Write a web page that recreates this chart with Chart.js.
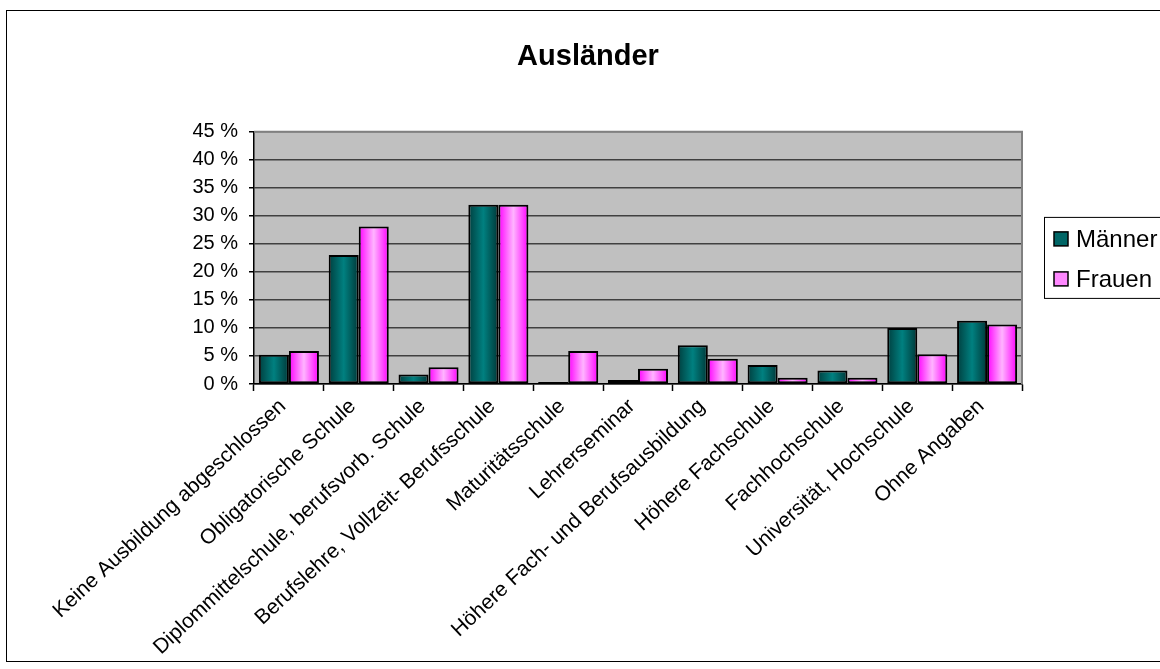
<!DOCTYPE html>
<html>
<head>
<meta charset="utf-8">
<title>Ausländer</title>
<script src="https://cdn.jsdelivr.net/npm/chart.js@4.4.1/dist/chart.umd.min.js"></script>
<style>
    body { margin: 0; background: #fff; }
    #wrap { position: relative; width: 1160px; height: 669px; overflow: hidden; }
    #frame { position: absolute; left: 6px; top: 10px; width: 1170px; height: 650px; border: 1px solid #000; pointer-events: none; }
</style>
</head>
<body>
<div id="wrap">
    <canvas id="chart"></canvas>
    <div id="frame"></div>
</div>
<script>
// Chart data (in %)
const categories = [
    'Keine Ausbildung abgeschlossen',
    'Obligatorische Schule',
    'Diplommittelschule, berufsvorb. Schule',
    'Berufslehre, Vollzeit- Berufsschule',
    'Maturitätsschule',
    'Lehrerseminar',
    'Höhere Fach- und Berufsausbildung',
    'Höhere Fachschule',
    'Fachhochschule',
    'Universität, Hochschule',
    'Ohne Angaben'
];
const maenner = [5.2, 23.0, 1.7, 32.0, 0.35, 0.7, 6.9, 3.4, 2.4, 10.0, 11.3];
const frauen = [5.9, 28.1, 3.0, 32.0, 5.9, 2.7, 4.5, 1.1, 1.1, 5.3, 10.6];
const seriesNames = ['Männer', 'Frauen'];
const yTicks = [0, 5, 10, 15, 20, 25, 30, 35, 40, 45];

const FONT = "'Liberation Sans', Arial, sans-serif";
const CAT_PCT = 0.86;

// gradient stops per series (dark edges, light centre like the old office charts)
const gradients = [
    [[0, '#003f3f'], [0.5, '#008080'], [1, '#003838']],
    [[0, '#ff00ff'], [0.5, '#ffb4ff'], [1, '#ff00ff']]
];
const legendColors = ['#006666', '#ff88ff'];

function barFill(context) {
    const stops = gradients[context.datasetIndex];
    const xs = context.chart.scales.x;
    if (!xs || context.dataIndex === undefined || !xs.width) return stops[1][1];
    const step = xs.width / categories.length;
    const barW = step * CAT_PCT / 2;
    const center = xs.getPixelForValue(context.dataIndex) + (context.datasetIndex === 0 ? -barW / 2 : barW / 2);
    const g = context.chart.ctx.createLinearGradient(center - barW / 2, 0, center + barW / 2, 0);
    stops.forEach(s => g.addColorStop(s[0], s[1]));
    return g;
}

// grey plot background + grey top/right edge
const plotArea = {
    id: 'plotArea',
    beforeDraw(chart) {
        const {ctx, chartArea: a} = chart;
        ctx.save();
        ctx.fillStyle = '#c0c0c0';
        ctx.fillRect(a.left, a.top, a.right - a.left, a.bottom - a.top);
        ctx.restore();
    },
    beforeDatasetsDraw(chart) {
        const {ctx, chartArea: a} = chart;
        ctx.save();
        ctx.strokeStyle = '#808080';
        ctx.lineWidth = 2;
        ctx.beginPath();
        ctx.moveTo(a.left, a.top);
        ctx.lineTo(a.right, a.top);
        ctx.lineTo(a.right, a.bottom);
        ctx.stroke();
        ctx.restore();
    }
};

// legend box on the right, next to the plot
const boxLegend = {
    id: 'boxLegend',
    afterDraw(chart) {
        const {ctx, chartArea: a} = chart;
        const left = a.right + 22;
        const mid = (a.top + a.bottom) / 2;
        const rowH = 40;
        const top = mid - 41;
        ctx.save();
        ctx.fillStyle = '#fff';
        ctx.fillRect(left, top, 200, 81);
        ctx.strokeStyle = '#000';
        ctx.lineWidth = 1;
        ctx.strokeRect(left + 0.5, top + 0.5, 200, 81);
        ctx.font = '24px ' + FONT;
        ctx.textBaseline = 'middle';
        chart.data.datasets.forEach((ds, i) => {
            const cy = top + 22 + i * rowH;
            ctx.fillStyle = legendColors[i];
            ctx.fillRect(left + 10, cy - 7, 14, 14);
            ctx.strokeStyle = '#000';
            ctx.lineWidth = 1.5;
            ctx.strokeRect(left + 10, cy - 7, 14, 14);
            ctx.fillStyle = '#000';
            ctx.fillText(ds.label, left + 32, cy + 1);
        });
        ctx.restore();
    }
};

const chart = new Chart(document.getElementById('chart'), {
    type: 'bar',
    data: {
        labels: categories,
        datasets: [{
            label: seriesNames[0],
            data: maenner,
            backgroundColor: barFill,
            borderColor: '#000',
            borderWidth: 2,
            borderSkipped: false,
            categoryPercentage: CAT_PCT,
            barPercentage: 1.0
        }, {
            label: seriesNames[1],
            data: frauen,
            backgroundColor: barFill,
            borderColor: '#000',
            borderWidth: 2,
            borderSkipped: false,
            categoryPercentage: CAT_PCT,
            barPercentage: 1.0
        }]
    },
    options: {
        responsive: true,
        maintainAspectRatio: false,
        animation: false,
        layout: {
            padding: { left: 16, right: 0, top: 0, bottom: 0 }
        },
        plugins: {
            legend: { display: false },
            tooltip: { enabled: false },
            title: {
                display: true,
                text: 'Ausländer',
                color: '#000',
                font: { family: FONT, size: 29, weight: 'bold' },
                padding: { top: 40, bottom: 57 }
            }
        },
        scales: {
            x: {
                grid: {
                    display: true,
                    drawOnChartArea: false,
                    drawTicks: true,
                    tickLength: 7,
                    offset: true,
                    tickColor: '#000',
                    tickWidth: 1.5
                },
                border: { display: true, color: '#000', width: 1.5 },
                ticks: {
                    color: '#000',
                    font: { family: FONT, size: 21 },
                    maxRotation: 43,
                    minRotation: 43,
                    autoSkip: false,
                    labelOffset: -6,
                    padding: 3
                },
                afterFit(scale) { scale.height = 285; }
            },
            y: {
                min: 0,
                max: 45,
                afterBuildTicks(scale) {
                    scale.ticks = yTicks.map(v => ({ value: v }));
                },
                grid: {
                    color: (ctx) => ctx.tick && ctx.tick.value === 45 ? '#808080' : '#404040',
                    lineWidth: 1.5,
                    tickLength: 5,
                    tickColor: '#000',
                    tickWidth: 1.5
                },
                border: { display: true, color: '#000', width: 1.5 },
                ticks: {
                    color: '#000',
                    font: { family: FONT, size: 20 },
                    padding: 11,
                    callback: (v) => v + ' %'
                },
                afterFit(scale) { scale.width = 238; }
            },
            spacer: {
                type: 'linear',
                position: 'right',
                display: true,
                grid: { display: false },
                border: { display: false },
                ticks: { display: false },
                afterFit(scale) { scale.width = 138; }
            }
        }
    },
    plugins: [plotArea, boxLegend]
});
</script>
</body>
</html>
